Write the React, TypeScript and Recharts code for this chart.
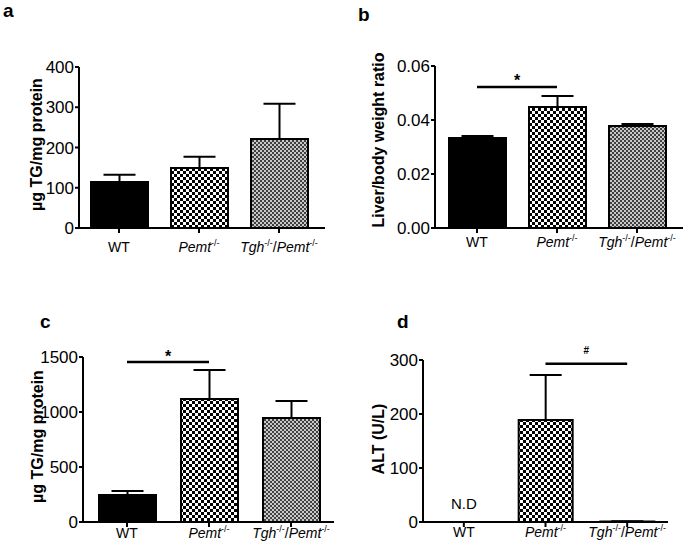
import React from 'react';
import { BarChart, Bar, XAxis, YAxis, ErrorBar, Cell, ReferenceLine, ReferenceDot } from 'recharts';

const FONT = 'Arial, "Liberation Sans", Helvetica, sans-serif';

// genotypes on every x axis
const groups = ['WT', 'Pemt', 'Tgh/Pemt'];

// a: hepatic TG
const tgA = [114, 149, 221];
const tgAErr = [18, 28, 88];

// b: liver / body weight
const ratioB = [0.0333, 0.0448, 0.0378];
const ratioBErr = [0.0008, 0.0041, 0.0007];

// c: TG
const tgC = [245, 1118, 945];
const tgCErr = [37, 264, 155];

// d: plasma ALT, WT not detected
const altD = [0, 189, 1];
const altDErr = [0, 83, 0];
const notesD = ['N.D', undefined, undefined];

const ticksA = [0, 100, 200, 300, 400];
const ticksB = [0, 0.02, 0.04, 0.06];
const ticksC = [0, 500, 1000, 1500];
const ticksD = [0, 100, 200, 300];

const makeRows = (vals: number[], errs: number[], notes?: (string | undefined)[]) =>
  groups.map((g, i) => ({ group: g, value: vals[i], err: [0, errs[i]], note: notes ? notes[i] : undefined }));

const sup = (t: string, key: string) => (
  <tspan key={key} fontSize={9} dy={-6}>{t}</tspan>
);

const GroupTick = (props: any) => {
  const { x, y, payload, labelDy } = props;
  const g = payload.value;
  let parts: any;
  if (g === 'WT') {
    parts = 'WT';
  } else if (g === 'Pemt') {
    parts = [<tspan key="p" fontStyle="italic">Pemt</tspan>, sup('-/-', 's')];
  } else {
    parts = [
      <tspan key="t" fontStyle="italic">Tgh</tspan>,
      sup('-/-', 's1'),
      <tspan key="sl" dy={6}>/</tspan>,
      <tspan key="p" fontStyle="italic">Pemt</tspan>,
      sup('-/-', 's2'),
    ];
  }
  return (
    <text x={x} y={y + labelDy} textAnchor="middle" fontSize={14} fontFamily={FONT} fill="#000">
      {parts}
    </text>
  );
};

const yTitle = (text: string, offsetX: number, dy: number) => (props: any) => {
  const vb = props.viewBox;
  const cx = vb.x + vb.width - offsetX;
  const cy = vb.y + vb.height / 2 + dy;
  return (
    <text
      x={cx}
      y={cy}
      transform={`rotate(-90 ${cx} ${cy})`}
      textAnchor="middle"
      dominantBaseline="central"
      fontSize={16}
      fontWeight="bold"
      fontFamily={FONT}
      fill="#000"
    >
      {text}
    </text>
  );
};

const Panel = (p: any) => {
  const fills = ['#000', `url(#${p.id}-coarse)`, `url(#${p.id}-fine)`];
  return (
    <div style={{ position: 'absolute', left: p.left, top: p.top }}>
      <BarChart width={p.width} height={275} data={p.rows} margin={p.margin}>
        <defs>
          <pattern id={`${p.id}-coarse`} width={6} height={6} patternUnits="userSpaceOnUse">
            <rect width={6} height={6} fill="#fff" />
            <rect width={3} height={3} fill="#000" />
            <rect x={3} y={3} width={3} height={3} fill="#000" />
          </pattern>
          <pattern id={`${p.id}-fine`} width={4} height={4} patternUnits="userSpaceOnUse">
            <rect width={4} height={4} fill="#c8c8c8" />
            <rect width={2} height={2} fill="#404040" />
            <rect x={2} y={2} width={2} height={2} fill="#404040" />
          </pattern>
        </defs>
        <XAxis
          dataKey="group"
          interval={0}
          height={p.xHeight}
          padding={p.padding}
          axisLine={{ stroke: '#000', strokeWidth: 2 }}
          tickLine={{ stroke: '#000', strokeWidth: 2 }}
          tickSize={5}
          tickMargin={0}
          tick={<GroupTick labelDy={p.labelDy} />}
        />
        <YAxis
          width={60}
          domain={[p.ticks[0], p.ticks[p.ticks.length - 1]]}
          ticks={p.ticks}
          interval={0}
          tickFormatter={p.fmt}
          axisLine={{ stroke: '#000', strokeWidth: 2 }}
          tickLine={{ stroke: '#000', strokeWidth: 2 }}
          tickSize={4}
          tickMargin={1}
          tick={{ fill: '#000', fontSize: 17, fontFamily: FONT }}
          label={{ content: yTitle(p.title, p.titleX, p.titleDy) }}
        />
        <Bar dataKey="value" barSize={p.barSize} stroke="#000" strokeWidth={2} isAnimationActive={false}>
          {p.rows.map((r: any, i: number) => (
            <Cell key={r.group} fill={fills[i]} />
          ))}
          <ErrorBar dataKey="err" width={16} stroke="#000" strokeWidth={2} direction="y" />
        </Bar>
        {p.rows
          .filter((r: any) => r.note)
          .map((r: any) => (
            <ReferenceDot
              key={`note-${r.group}`}
              x={r.group}
              y={r.value}
              r={0}
              stroke="none"
              fill="none"
              label={{ value: r.note, position: 'top', offset: 13, fill: '#000', fontSize: 15, fontFamily: FONT }}
            />
          ))}
        {p.sig && (
          <ReferenceLine
            segment={[{ x: p.sig.from, y: p.sig.y }, { x: p.sig.to, y: p.sig.y }]}
            stroke="#000"
            strokeWidth={2.5}
            label={{
              value: p.sig.mark,
              position: 'top',
              offset: p.sig.offset,
              fill: '#000',
              fontSize: p.sig.size,
              fontWeight: 'bold',
              fontFamily: FONT,
            }}
          />
        )}
      </BarChart>
    </div>
  );
};

const letterStyle: React.CSSProperties = {
  position: 'absolute',
  fontFamily: FONT,
  fontWeight: 'bold',
  fontSize: 19,
  lineHeight: '22px',
  color: '#000',
};

export default function App() {
  return (
    <div style={{ position: 'absolute', left: 0, top: 0, width: 685, height: 550, background: '#fff', overflow: 'hidden' }}>
      <Panel
        id="pa"
        left={0}
        top={0}
        width={340}
        rows={makeRows(tgA, tgAErr)}
        margin={{ top: 67, right: 15, bottom: 0, left: 19 }}
        xHeight={47}
        padding={{ left: 0, right: 6 }}
        labelDy={19}
        ticks={ticksA}
        title="µg TG/mg protein"
        titleX={43}
        titleDy={-3}
        barSize={57}
      />
      <Panel
        id="pb"
        left={340}
        top={0}
        width={345}
        rows={makeRows(ratioB, ratioBErr)}
        margin={{ top: 66, right: 2, bottom: 0, left: 35 }}
        xHeight={47}
        padding={{ left: 2, right: 6 }}
        labelDy={14}
        ticks={ticksB}
        fmt={(v: number) => v.toFixed(2)}
        title="Liver/body weight ratio"
        titleX={57}
        titleDy={-7}
        barSize={57}
        sig={{ from: 'WT', to: 'Pemt', y: 0.0522, mark: '*', size: 16, offset: 1 }}
      />
      <Panel
        id="pc"
        left={0}
        top={275}
        width={340}
        rows={makeRows(tgC, tgCErr)}
        margin={{ top: 82, right: 6, bottom: 0, left: 23 }}
        xHeight={28}
        padding={{ left: 3, right: 2 }}
        labelDy={11}
        ticks={ticksC}
        title="µg TG/mg protein"
        titleX={46}
        titleDy={-3}
        barSize={57}
        sig={{ from: 'WT', to: 'Pemt', y: 1455, mark: '*', size: 16, offset: 0 }}
      />
      <Panel
        id="pd"
        left={340}
        top={275}
        width={345}
        rows={makeRows(altD, altDErr, notesD)}
        margin={{ top: 85, right: 17, bottom: 0, left: 23 }}
        xHeight={28}
        padding={{ left: 0, right: 0 }}
        labelDy={10}
        ticks={ticksD}
        title="ALT (U/L)"
        titleX={45}
        titleDy={-2}
        barSize={54}
        sig={{ from: 'Pemt', to: 'Tgh/Pemt', y: 293, mark: '#', size: 10, offset: 10 }}
      />
      <div style={{ ...letterStyle, left: 3, top: 0 }}>a</div>
      <div style={{ ...letterStyle, left: 358, top: 4 }}>b</div>
      <div style={{ ...letterStyle, left: 40, top: 311 }}>c</div>
      <div style={{ ...letterStyle, left: 397, top: 311 }}>d</div>
    </div>
  );
}
